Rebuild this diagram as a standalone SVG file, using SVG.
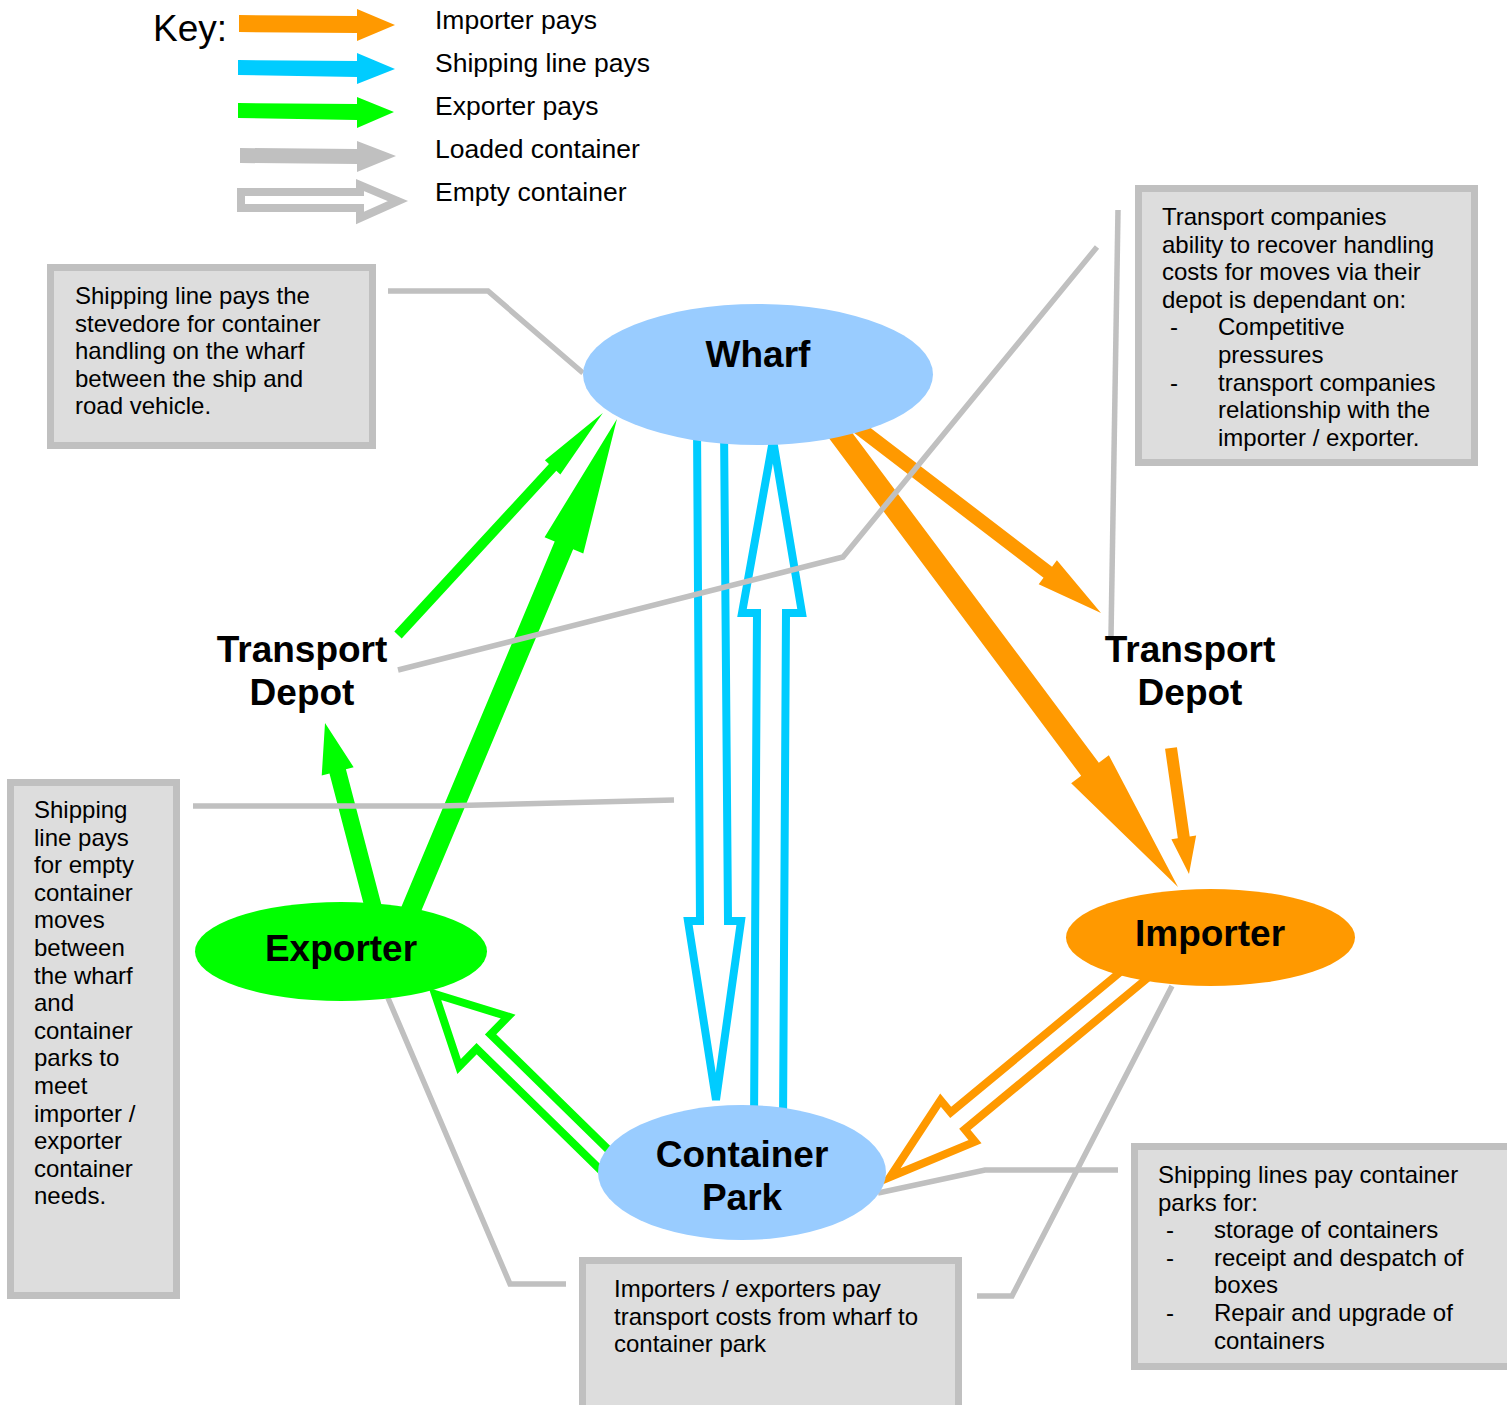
<svg xmlns="http://www.w3.org/2000/svg" width="1507" height="1405" viewBox="0 0 1507 1405">
<style>
text{font-family:"Liberation Sans",Arial,sans-serif;fill:#000}
.lbl{font-size:37px;font-weight:bold;text-anchor:middle}
.key{font-size:26.5px}
.note{font-size:24px}
.box{fill:#DDDDDD;stroke:#C0C0C0;stroke-width:7}
.conn{fill:none;stroke:#C0C0C0;stroke-width:5.5}
.org{fill:#FF9900}
.grn{fill:#00FF00}
.blu{fill:#00CCFF}
.hol{fill:none;stroke-width:8;stroke-linejoin:miter}
</style>
<rect width="1507" height="1405" fill="#FFFFFF"/>

<g id="key">
<text x="153" y="41" style="font-size:37px">Key:</text>
<polygon class="org" points="239,15 357,16 357,9 395,25 357,41 357,33 239,32"/>
<polygon class="blu" points="238,60 357,61 357,53 395,69 357,84 357,77 238,75"/>
<polygon class="grn" points="238,103 357,104 357,97 394,112 357,128 357,120 238,118"/>
<polygon fill="#C0C0C0" points="240,148 357,149 357,141 396,156 357,172 357,164 240,163"/>
<polygon fill="#FFFFFF" stroke="#C0C0C0" stroke-width="8" points="241,192 360,192 360,185 398,201 360,218 360,208 241,208"/>
<text class="key" x="435" y="29">Importer pays</text>
<text class="key" x="435" y="72">Shipping line pays</text>
<text class="key" x="435" y="115">Exporter pays</text>
<text class="key" x="435" y="158">Loaded container</text>
<text class="key" x="435" y="201">Empty container</text>
</g>

<g id="arrows">
<polygon class="grn" transform="translate(398,635) rotate(-47.3)" points="0,-5 228,-5 228,-10.5 302,0 228,10.5 228,5 0,5"/>
<polygon class="grn" transform="translate(410,912) rotate(-67.23)" points="0,-10 397.7,-10 397.7,-21 534.7,0 397.7,21 397.7,10 0,10"/>
<polygon class="grn" transform="translate(374,910) rotate(-104.68)" points="0,-8.5 143.3,-8.5 143.3,-16.5 193.3,0 143.3,16.5 143.3,8.5 0,8.5"/>
<polygon class="hol" stroke="#00FF00" transform="translate(625,1180) rotate(-135.61)" points="0,-10 197.9,-10 197.9,-35 265.9,0 197.9,35 197.9,10 0,10"/>
<polygon class="org" transform="translate(850,421) rotate(37.41)" points="0,-7 249,-7 249,-15 316,0 249,15 249,7 0,7"/>
<polygon class="org" transform="translate(835,428) rotate(53.23)" points="0,-11 426,-11 426,-23.5 573,0 426,23.5 426,11 0,11"/>
<polygon class="org" transform="translate(1171,748) rotate(81.87)" points="0,-6 90.3,-6 90.3,-12.5 127.3,0 90.3,12.5 90.3,6 0,6"/>
<polygon class="hol" stroke="#FF9900" transform="translate(1140,970) rotate(140.37)" points="0,-11 236.6,-11 236.6,-27 324.6,0 236.6,27 236.6,11 0,11"/>
<polygon class="hol" stroke="#00CCFF" points="697,425 700,921 688,921 716,1100 741,921 728,921 724,425"/>
<polygon class="hol" stroke="#00CCFF" points="754,1125 757,613 742,613 773,440 802,613 786,613 783,1125"/>
</g>

<g id="connectors">
<polyline class="conn" points="388,291 488,291 583,373"/>
<polyline class="conn" points="398,670 843,557 1097,247"/>
<polyline class="conn" points="1118,210 1111,637"/>
<polyline class="conn" points="193,806 440,806 674,800"/>
<polyline class="conn" points="388,998 510,1284 566,1284"/>
<polyline class="conn" points="977,1296 1012,1296 1172,986"/>
<polyline class="conn" points="1118,1170 985,1170 878,1193"/>
</g>

<g id="wharf">
<ellipse cx="758" cy="374.5" rx="175" ry="70.5" fill="#99CCFF"/>
<text class="lbl" x="758" y="367">Wharf</text>
</g>
<g id="exporter">
<ellipse cx="341" cy="951.5" rx="146" ry="49.5" fill="#00FF00"/>
<text class="lbl" x="341" y="961">Exporter</text>
</g>
<g id="importer">
<ellipse cx="1210.5" cy="937.5" rx="144.5" ry="48.5" fill="#FF9900"/>
<text class="lbl" x="1210" y="946">Importer</text>
</g>
<g id="container-park">
<ellipse cx="742" cy="1172.5" rx="144" ry="67.5" fill="#99CCFF"/>
<text class="lbl" x="742" y="1167">Container</text>
<text class="lbl" x="742" y="1210">Park</text>
</g>
<g id="depot-left">
<text class="lbl" x="302" y="662">Transport</text>
<text class="lbl" x="302" y="705">Depot</text>
</g>
<g id="depot-right">
<text class="lbl" x="1190" y="662">Transport</text>
<text class="lbl" x="1190" y="705">Depot</text>
</g>

<g id="note-stevedore">
<rect class="box" x="50.5" y="267.5" width="322" height="178"/>
<text class="note" x="75" y="304">Shipping line pays the</text>
<text class="note" x="75" y="331.6">stevedore for container</text>
<text class="note" x="75" y="359.2">handling on the wharf</text>
<text class="note" x="75" y="386.8">between the ship and</text>
<text class="note" x="75" y="414.4">road vehicle.</text>
</g>

<g id="note-transport">
<rect class="box" x="1138.5" y="188.5" width="336" height="274"/>
<text class="note" x="1162" y="225">Transport companies</text>
<text class="note" x="1162" y="252.6">ability to recover handling</text>
<text class="note" x="1162" y="280.2">costs for moves via their</text>
<text class="note" x="1162" y="307.8">depot is dependant on:</text>
<text class="note" x="1170" y="335.4">-</text>
<text class="note" x="1218" y="335.4">Competitive</text>
<text class="note" x="1218" y="363">pressures</text>
<text class="note" x="1170" y="390.6">-</text>
<text class="note" x="1218" y="390.6">transport companies</text>
<text class="note" x="1218" y="418.2">relationship with the</text>
<text class="note" x="1218" y="445.8">importer / exporter.</text>
</g>

<g id="note-empty">
<rect class="box" x="10.5" y="782.5" width="166" height="513"/>
<text class="note" x="34" y="818">Shipping</text>
<text class="note" x="34" y="845.6">line pays</text>
<text class="note" x="34" y="873.2">for empty</text>
<text class="note" x="34" y="900.8">container</text>
<text class="note" x="34" y="928.4">moves</text>
<text class="note" x="34" y="956">between</text>
<text class="note" x="34" y="983.6">the wharf</text>
<text class="note" x="34" y="1011.2">and</text>
<text class="note" x="34" y="1038.8">container</text>
<text class="note" x="34" y="1066.4">parks to</text>
<text class="note" x="34" y="1094">meet</text>
<text class="note" x="34" y="1121.6">importer /</text>
<text class="note" x="34" y="1149.2">exporter</text>
<text class="note" x="34" y="1176.8">container</text>
<text class="note" x="34" y="1204.4">needs.</text>
</g>

<g id="note-importers">
<rect class="box" x="582.5" y="1260.5" width="376" height="150"/>
<text class="note" x="614" y="1297">Importers / exporters pay</text>
<text class="note" x="614" y="1324.6">transport costs from wharf to</text>
<text class="note" x="614" y="1352.2">container park</text>
</g>

<g id="note-container-parks">
<rect class="box" x="1134.5" y="1146.5" width="380" height="220"/>
<text class="note" x="1158" y="1183">Shipping lines pay container</text>
<text class="note" x="1158" y="1210.6">parks for:</text>
<text class="note" x="1166" y="1238.2">-</text>
<text class="note" x="1214" y="1238.2">storage of containers</text>
<text class="note" x="1166" y="1265.8">-</text>
<text class="note" x="1214" y="1265.8">receipt and despatch of</text>
<text class="note" x="1214" y="1293.4">boxes</text>
<text class="note" x="1166" y="1321">-</text>
<text class="note" x="1214" y="1321">Repair and upgrade of</text>
<text class="note" x="1214" y="1348.6">containers</text>
</g>
</svg>
